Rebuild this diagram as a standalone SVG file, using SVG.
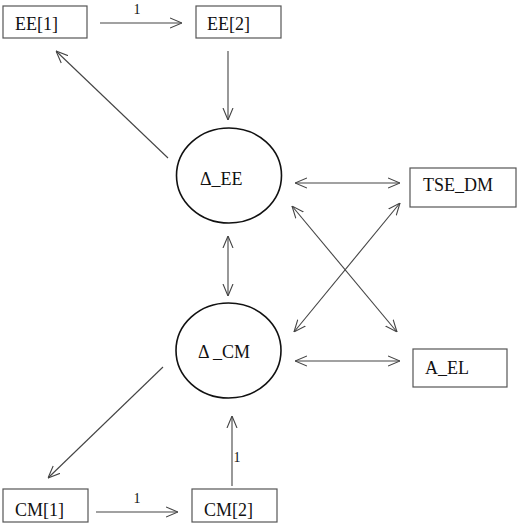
<svg xmlns="http://www.w3.org/2000/svg" width="519" height="525" viewBox="0 0 519 525">
<style>
.box{fill:#fff;stroke:#555;stroke-width:1.2}
.lat{fill:#fff;stroke:#111;stroke-width:1.6}
.t{font-family:"Liberation Serif","Times New Roman",serif;font-size:18px;fill:#111}
.lbl{font-family:"Liberation Serif","Times New Roman",serif;font-size:14px;fill:#111}
.c{stroke:#444;stroke-width:1.1;fill:none}
.one{marker-end:url(#ah)}
.two{marker-start:url(#ah);marker-end:url(#ah)}
</style>
<defs>
<marker id="ah" viewBox="0 0 12 12" refX="12" refY="6" markerWidth="12" markerHeight="12" markerUnits="userSpaceOnUse" orient="auto-start-reverse">
<path d="M0,1 L12,6 L0,11" fill="none" stroke="#444" stroke-width="1.1"/>
</marker>
</defs>
<rect width="519" height="525" fill="#fff"/>
<g id="connectors">
<line class="c one" x1="100" y1="23" x2="182" y2="23"/>
<text class="lbl" x="137" y="14" text-anchor="middle">1</text>
<line class="c one" x1="228" y1="51" x2="228" y2="120"/>
<line class="c one" x1="168" y1="158" x2="56" y2="51"/>
<line class="c two" x1="295" y1="183" x2="400" y2="183"/>
<line class="c two" x1="292" y1="206" x2="397" y2="332"/>
<line class="c two" x1="400" y1="203" x2="294" y2="332"/>
<line class="c two" x1="228" y1="236" x2="228" y2="296"/>
<line class="c two" x1="295" y1="361" x2="400" y2="361"/>
<line class="c one" x1="163" y1="367" x2="48" y2="478"/>
<line class="c one" x1="96" y1="512" x2="178" y2="512"/>
<text class="lbl" x="137" y="503" text-anchor="middle">1</text>
<line class="c one" x1="232" y1="486" x2="232" y2="416"/>
<text class="lbl" x="237" y="462" text-anchor="middle">1</text>
</g>
<g id="EE1"><rect class="box" x="3" y="6" width="84" height="32"/><text class="t" x="15" y="30">EE[1]</text></g>
<g id="EE2"><rect class="box" x="196" y="6" width="85" height="32"/><text class="t" x="207" y="30">EE[2]</text></g>
<g id="dEE"><ellipse class="lat" cx="229" cy="175.5" rx="52.5" ry="47.5"/><text class="t" x="200" y="185">Δ_EE</text></g>
<g id="TSE_DM"><rect class="box" x="410" y="168" width="106" height="39"/><text class="t" x="423" y="191">TSE_DM</text></g>
<g id="dCM"><ellipse class="lat" cx="228.5" cy="350.5" rx="52.5" ry="47.5"/><text class="t" x="198" y="358">Δ _CM</text></g>
<g id="A_EL"><rect class="box" x="413" y="349" width="94" height="38"/><text class="t" x="425" y="374">A_EL</text></g>
<g id="CM1"><rect class="box" x="3" y="489" width="85" height="33"/><text class="t" x="15" y="516">CM[1]</text></g>
<g id="CM2"><rect class="box" x="192" y="489" width="85" height="33"/><text class="t" x="204" y="516">CM[2]</text></g>
</svg>
